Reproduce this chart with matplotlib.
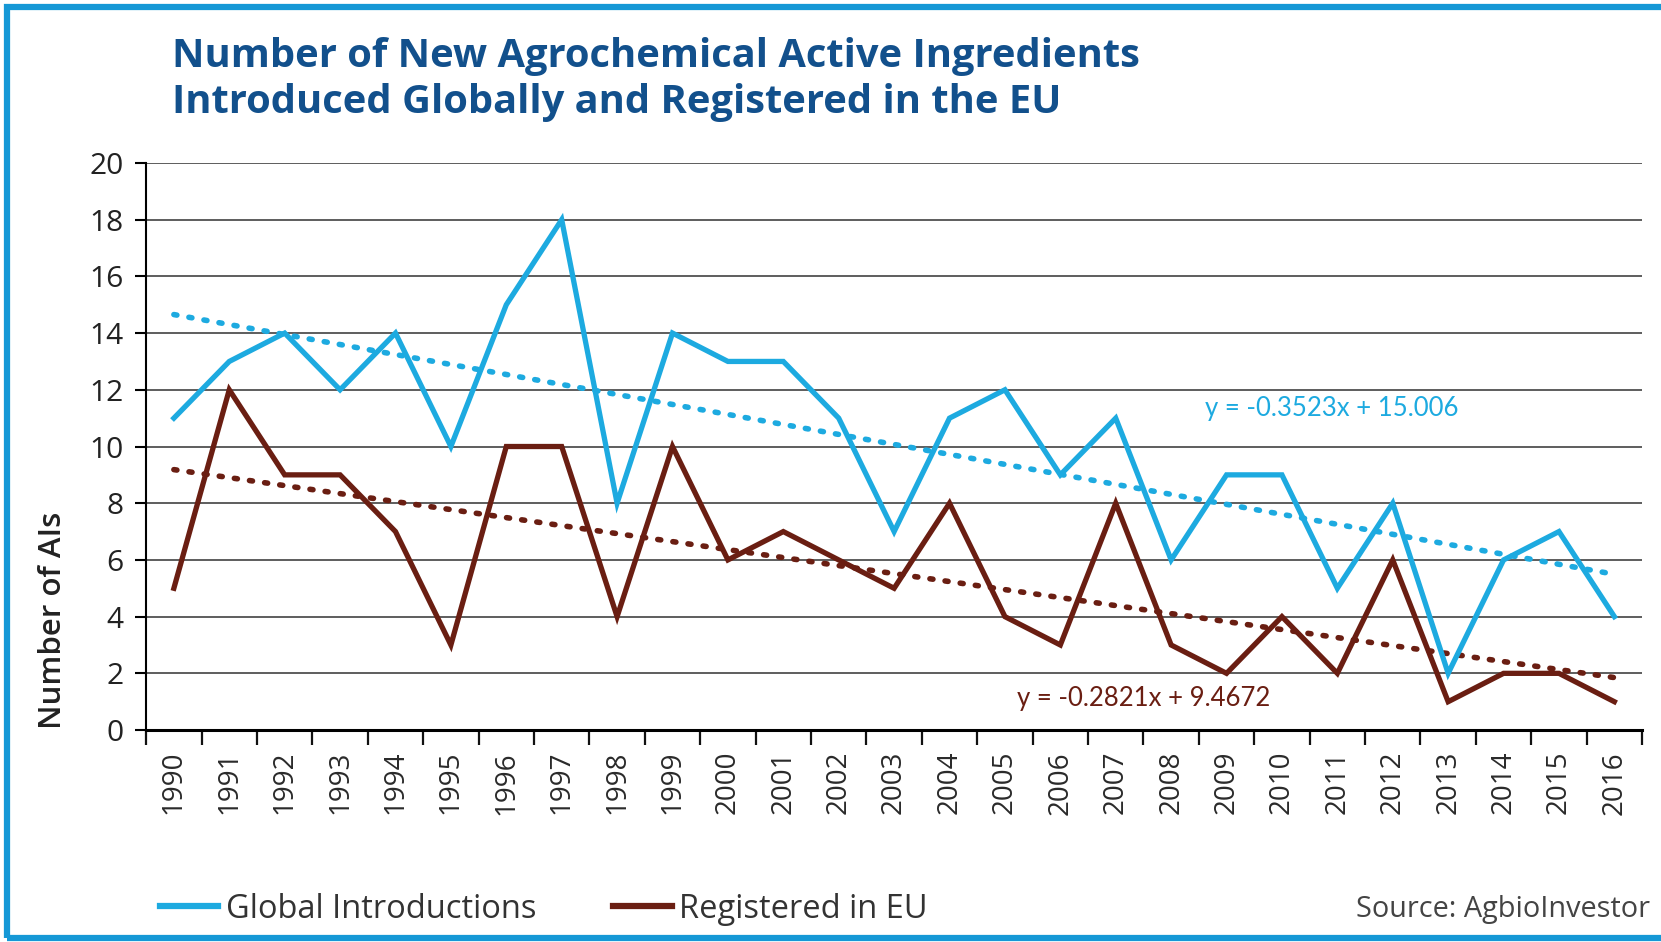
import numpy as np
import matplotlib.pyplot as plt
from matplotlib.lines import Line2D
from matplotlib.patches import Rectangle

plt.rcParams['font.family'] = ['Open Sans', 'DejaVu Sans']

years = [str(y) for y in range(1990, 2017)]
global_intro = [11, 13, 14, 12, 14, 10, 15, 18, 8, 14, 13, 13, 11, 7, 11, 12,
                9, 11, 6, 9, 9, 5, 8, 2, 6, 7, 4]
registered_eu = [5, 12, 9, 9, 7, 3, 10, 10, 4, 10, 6, 7, 6, 5, 8, 4,
                 3, 8, 3, 2, 4, 2, 6, 1, 2, 2, 1]
# trend line coefficients as printed on the chart (x = 1..27)
global_trend = (-0.3523, 15.006)
eu_trend = (-0.2821, 9.4672)

blue = '#1DAAE0'
brown = '#6A1E12'
title_col = '#12508C'

fig = plt.figure(figsize=(16.61, 9.42), dpi=100)
ax = fig.add_axes([0.088, 0.225, 0.9006, 0.602])

x = np.arange(len(years))
xn = x + 1
ax.plot(x, global_intro, color=blue, lw=3.8, solid_joinstyle='miter', zorder=3)
ax.plot(x, registered_eu, color=brown, lw=3.8, solid_joinstyle='miter', zorder=3)
ax.plot(x, global_trend[0] * xn + global_trend[1], color=blue, lw=4,
        linestyle=(0, (0.55, 2.2)), dash_capstyle='round', zorder=2)
ax.plot(x, eu_trend[0] * xn + eu_trend[1], color=brown, lw=4,
        linestyle=(0, (0.55, 2.2)), dash_capstyle='round', zorder=2)

ax.text(20.9, 11.35, 'y = -0.3523x + 15.006', color=blue, fontsize=18.5,
        ha='center', va='center', family=['Lato', 'DejaVu Sans'])
ax.text(17.5, 1.1, 'y = -0.2821x + 9.4672', color=brown, fontsize=18.5,
        ha='center', va='center', family=['Lato', 'DejaVu Sans'])

ax.set_xlim(-0.5, 26.5)
ax.set_ylim(0, 20)
ax.set_yticks(np.arange(0, 21, 2))
ax.set_xticks(x)
ax.set_xticklabels(years, rotation=90)
ax.set_xticks(np.arange(-0.5, 27, 1), minor=True)
ax.tick_params(axis='x', which='major', length=0, pad=15, labelsize=20, labelcolor='#2a2a2a')
ax.tick_params(axis='x', which='minor', length=11, width=1.6, color='#111111')
ax.tick_params(axis='y', length=8, width=1.5, pad=8, labelsize=21.5, labelcolor='#222222')
ax.yaxis.grid(True, color='#3a3a3a', lw=1.15)
ax.set_axisbelow(True)
for s in ['top', 'right']:
    ax.spines[s].set_visible(False)
ax.spines['left'].set_linewidth(1.5)
ax.spines['bottom'].set_linewidth(2.2)

fig.text(0.032, 0.226, 'Number of AIs', rotation=90, fontsize=22.5, fontweight='semibold',
         color='#222222', ha='center', va='bottom')

fig.text(0.1035, 0.961, 'Number of New Agrochemical Active Ingredients\nIntroduced Globally and Registered in the EU',
         fontsize=28.7, fontweight='bold', color=title_col, ha='left', va='top', linespacing=1.25)

handles = [Line2D([], [], color=blue, lw=4.5), Line2D([], [], color=brown, lw=4.5)]
fig.legend(handles, ['Global Introductions', 'Registered in EU'], loc='center left',
           bbox_to_anchor=(0.0965, 0.035), ncol=2, frameon=False, fontsize=23.5,
           handlelength=1.78, handletextpad=0.23, columnspacing=2.36,
           borderpad=0, borderaxespad=0, labelcolor='#333333')
fig.text(0.9935, 0.035, 'Source: AgbioInvestor', fontsize=20.8, color='#444444',
         ha='right', va='center')

# blue frame around the picture (right edge cut off)
fig.patches.append(Rectangle((0.0042, 0.0045), 1.2, 0.9883, transform=fig.transFigure,
                             fill=False, edgecolor='#1598D6', lw=4.5))

fig.savefig('out.png', dpi=100)
